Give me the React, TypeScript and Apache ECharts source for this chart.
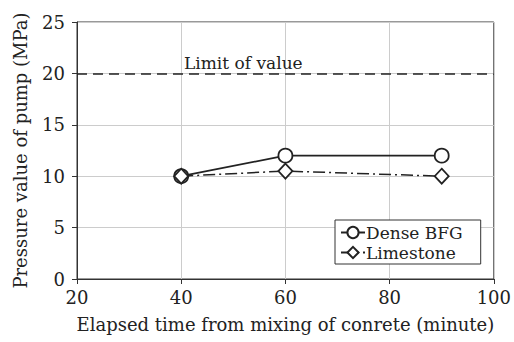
import React, { useEffect, useRef } from "react";
import * as echarts from "echarts";

const xTimes = [40, 60, 90];
const denseBFG = [10, 12, 12];
const limestone = [10, 10.5, 10];
const limitValue = 20;
const limitLabel = "Limit of value";
const seriesNames = ["Dense BFG", "Limestone"];
const xAxisTitle = "Elapsed time from mixing of conrete (minute)";
const yAxisTitle = "Pressure value of pump (MPa)";

const FONT = "DejaVu Serif";

export default function App() {
  const ref = useRef<HTMLDivElement>(null);
  useEffect(() => {
    if (!ref.current) return;
    const chart = echarts.init(ref.current, null, { renderer: "svg" });
    const axisText = { fontFamily: FONT, fontSize: 18, color: "#222" };
    chart.setOption({
      animation: false,
      backgroundColor: "#fff",
      textStyle: { fontFamily: FONT },
      grid: {
        left: 77,
        right: 20,
        top: 22,
        bottom: 63,
        show: true,
        borderColor: "#333",
        borderWidth: 1,
      },
      legend: {
        orient: "vertical",
        left: 335,
        top: 220,
        padding: [4, 18, 3, 5],
        itemGap: 3,
        itemWidth: 24,
        itemHeight: 14,
        backgroundColor: "#fff",
        borderColor: "#333",
        borderWidth: 1,
        borderRadius: 0,
        textStyle: { fontFamily: FONT, fontSize: 17, color: "#222", padding: [0, 0, 0, -4] },
        data: seriesNames,
      },
      xAxis: {
        type: "value",
        min: 20,
        max: 100,
        interval: 20,
        name: xAxisTitle,
        nameLocation: "middle",
        nameGap: 36,
        nameTextStyle: { fontFamily: FONT, fontSize: 18, color: "#222" },
        axisLine: { show: true, onZero: false, lineStyle: { color: "#333", width: 1 } },
        axisTick: { show: true, inside: false, length: 5, lineStyle: { color: "#333" } },
        axisLabel: { ...axisText, margin: 9 },
        splitLine: { show: true, lineStyle: { color: "#ccc", width: 1 } },
      },
      yAxis: {
        type: "value",
        min: 0,
        max: 25,
        interval: 5,
        name: yAxisTitle,
        nameLocation: "middle",
        nameGap: 48,
        nameTextStyle: { fontFamily: FONT, fontSize: 18, color: "#222" },
        axisLine: { show: true, onZero: false, lineStyle: { color: "#333", width: 1 } },
        axisTick: { show: true, inside: false, length: 5, lineStyle: { color: "#333" } },
        axisLabel: { ...axisText, margin: 12 },
        splitLine: { show: true, lineStyle: { color: "#ccc", width: 1 } },
      },
      series: [
        {
          name: seriesNames[0],
          type: "line",
          data: xTimes.map((x, i) => [x, denseBFG[i]]),
          symbol: "circle",
          symbolSize: 14,
          z: 3,
          lineStyle: { color: "#222", width: 1.8, type: "solid" },
          itemStyle: { color: "#fff", borderColor: "#222", borderWidth: 1.8 },
          markLine: {
            silent: true,
            symbol: "none",
            data: [{ yAxis: limitValue }],
            lineStyle: { color: "#222", width: 1.5, type: [10, 6] },
            label: {
              show: true,
              position: "insideStartTop",
              formatter: limitLabel,
              fontFamily: FONT,
              fontSize: 17,
              color: "#222",
              padding: [0, 0, 0, 105],
              distance: 2,
            },
          },
        },
        {
          name: seriesNames[1],
          type: "line",
          data: xTimes.map((x, i) => [x, limestone[i]]),
          symbol: "diamond",
          symbolSize: [14, 15],
          z: 4,
          lineStyle: { color: "#222", width: 1.5, type: [12, 4, 2, 4] },
          itemStyle: { color: "#fff", borderColor: "#222", borderWidth: 1.8 },
        },
      ],
    });
    return () => chart.dispose();
  }, []);
  return <div ref={ref} style={{ width: 514, height: 342, position: "absolute", left: 0, top: 0 }} />;
}
